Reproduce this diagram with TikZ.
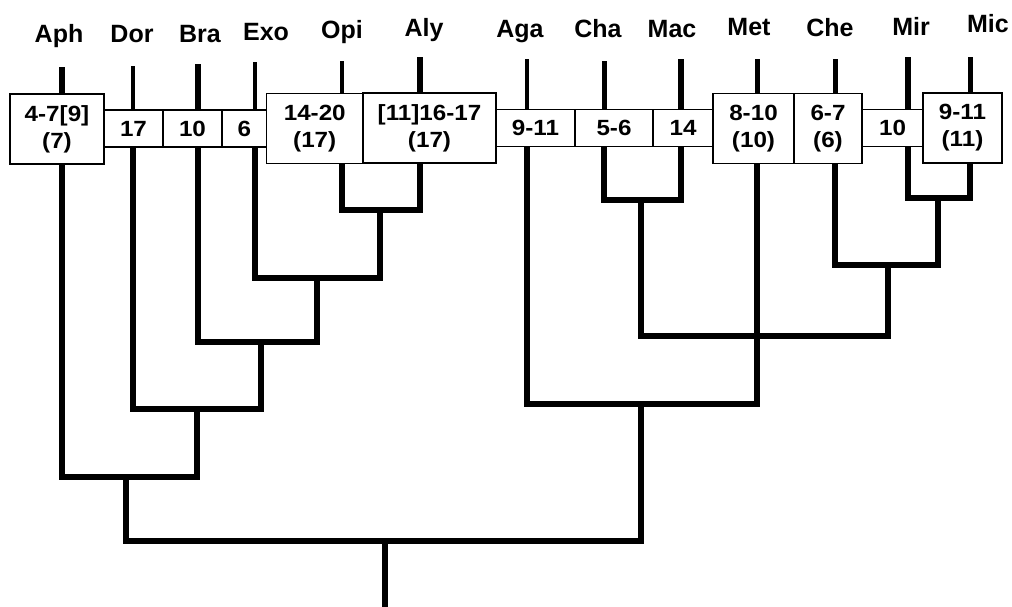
\documentclass[tikz,border=0pt]{standalone}
\usepackage{fontspec}
\setmainfont{Liberation Sans}
\newfontfamily\boxfont[FakeStretch=1.1]{Liberation Sans}
\tikzset{
  box/.style={draw, line width=1.5pt, fill=white, inner sep=0pt, outer sep=0pt,
    align=center, font=\boxfont\fontsize{22}{27}\selectfont\bfseries},
  tallbox/.style={box, minimum height=70pt},
  stripbox/.style={box, minimum height=37pt},
  taxon/.style={anchor=base, inner sep=0pt, font=\fontsize{25}{29}\selectfont\bfseries},
  br/.style={line width=6pt, line join=miter},
  leafthick/.style={line width=6pt},
  leafmid/.style={line width=5pt},
  leafthin/.style={line width=4pt}
}
\begin{document}
\begin{tikzpicture}[x=1pt,y=-1pt]
\useasboundingbox (0,0) rectangle (1012,606);

% taxon labels
\node[taxon] (lAph) at (59,42) {Aph};
\node[taxon] (lDor) at (132,42) {Dor};
\node[taxon] (lBra) at (200,42) {Bra};
\node[taxon] (lExo) at (266,40) {Exo};
\node[taxon] (lOpi) at (342,38) {Opi};
\node[taxon] (lAly) at (424,36) {Aly};
\node[taxon] (lAga) at (520,37) {Aga};
\node[taxon] (lCha) at (598,37) {Cha};
\node[taxon] (lMac) at (672,37) {Mac};
\node[taxon] (lMet) at (749,35) {Met};
\node[taxon] (lChe) at (830,36) {Che};
\node[taxon] (lMir) at (911,35) {Mir};
\node[taxon] (lMic) at (988,32) {Mic};

% leaf tops
\coordinate (tAph) at (62,67);
\coordinate (tDor) at (133,66);
\coordinate (tBra) at (198,64);
\coordinate (tExo) at (255,62);
\coordinate (tOpi) at (342,61);
\coordinate (tAly) at (420,57);
\coordinate (tAga) at (527,59);
\coordinate (tCha) at (604,61);
\coordinate (tMac) at (681,59);
\coordinate (tMet) at (757,59);
\coordinate (tChe) at (835,59);
\coordinate (tMir) at (908,57);
\coordinate (tMic) at (970,57);

% boxes
\node[tallbox,  minimum width=94pt]   (bAph) at (57,129)       {4-7[9]\\(7)};
\node[stripbox, minimum width=59pt]   (bDor) at (133.5,128.5)  {17};
\node[stripbox, minimum width=59pt]   (bBra) at (192.5,128.5)  {10};
\node[stripbox, minimum width=44.5pt] (bExo) at (244.25,128.5) {6};
\node[tallbox,  minimum width=96.5pt] (bOpi) at (314.75,128.5) {14-20\\(17)};
\node[tallbox,  minimum width=133pt]  (bAly) at (429.5,128)    {[11]16-17\\(17)};
\node[stripbox, minimum width=79pt]   (bAga) at (535.5,128)    {9-11};
\node[stripbox, minimum width=78pt]   (bCha) at (614,128)      {5-6};
\node[stripbox, minimum width=60pt]   (bMac) at (683,128)      {14};
\node[tallbox,  minimum width=81pt]   (bMet) at (753.5,128.5)  {8-10\\(10)};
\node[tallbox,  minimum width=68pt]   (bChe) at (828,128.5)    {6-7\\(6)};
\node[stripbox, minimum width=61pt]   (bMir) at (892.5,128)    {10};
\node[tallbox,  minimum width=79pt]   (bMic) at (962.5,128)    {9-11\\(11)};

% leaf stems above boxes
\draw[leafthick] (tAph) -- (tAph |- bAph.north);
\draw[leafthin]  (tDor) -- (tDor |- bDor.north);
\draw[leafthick] (tBra) -- (tBra |- bBra.north);
\draw[leafthin]  (tExo) -- (tExo |- bExo.north);
\draw[leafthin]  (tOpi) -- (tOpi |- bOpi.north);
\draw[leafthick] (tAly) -- (tAly |- bAly.north);
\draw[leafthin]  (tAga) -- (tAga |- bAga.north);
\draw[leafmid]   (tCha) -- (tCha |- bCha.north);
\draw[leafthick] (tMac) -- (tMac |- bMac.north);
\draw[leafmid]   (tMet) -- (tMet |- bMet.north);
\draw[leafmid]   (tChe) -- (tChe |- bChe.north);
\draw[leafthick] (tMir) -- (tMir |- bMir.north);
\draw[leafmid]   (tMic) -- (tMic |- bMic.north);

% junctions
\coordinate (jOA)  at (380,210);
\coordinate (jEOA) at (317,278);
\coordinate (jB)   at (261,342);
\coordinate (jD)   at (197,409);
\coordinate (jA)   at (126,477);
\coordinate (jR)   at (385,541);
\coordinate (jCM)  at (641,200);
\coordinate (jMM)  at (938,198);
\coordinate (jCMM) at (888,265);
\coordinate (jBig) at (757,336);
\coordinate (jAM)  at (641,404);
\coordinate (rootEnd) at (385,612);

% left clade
\draw[br] (tOpi |- bOpi.south) |- (jOA) -| (tAly |- bAly.south);
\draw[br] (tExo |- bExo.south) |- (jEOA) -| (jOA);
\draw[br] (tBra |- bBra.south) |- (jB) -| (jEOA);
\draw[br] (tDor |- bDor.south) |- (jD) -| (jB);
\draw[br] (tAph |- bAph.south) |- (jA) -| (jD);

% right clade
\draw[br] (tCha |- bCha.south) |- (jCM) -| (tMac |- bMac.south);
\draw[br] (tMir |- bMir.south) |- (jMM) -| (tMic |- bMic.south);
\draw[br] (tChe |- bChe.south) |- (jCMM) -| (jMM);
\draw[br] (jCM) |- (jBig) -| (jCMM);
\draw[br] (tAga |- bAga.south) |- (jAM) -| (tMet |- bMet.south);

% root
\draw[br] (jA) |- (jR) -| (jAM);
\draw[br] (jR) -- (rootEnd);
\end{tikzpicture}
\end{document}
